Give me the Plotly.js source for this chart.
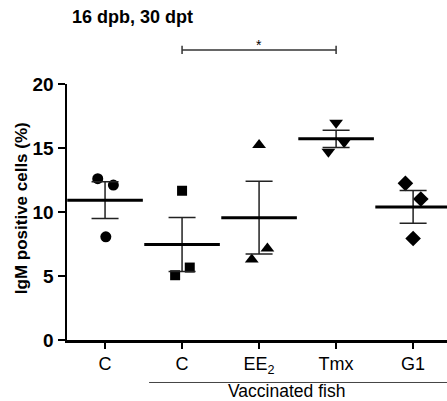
<!DOCTYPE html>
<html>
<head>
<meta charset="utf-8">
<script src="https://cdn.plot.ly/plotly-3.0.1.min.js"></script>
<style>html,body{margin:0;padding:0;background:#fff;}#chart{width:447px;height:401px;}</style>
</head>
<body>
<div id="chart"></div>
<script>
// Data
const categories = ["C", "C", "EE<sub>2</sub>", "Tmx", "G1"];
const groupC      = [12.6, 12.1, 8.06];
const groupVaccC  = [11.66, 5.06, 5.66];
const groupEE2    = [15.24, 6.29, 7.15];
const groupTmx    = [16.98, 15.45, 14.71];
const groupG1     = [12.24, 11.01, 7.93];
const jitter      = [[-0.095, 0.108, 0.01], [0, -0.09, 0.1], [0, -0.095, 0.108], [0, 0.104, -0.1], [-0.1, 0.1, 0]];
const symbols     = ["circle", "square", "triangle-up", "triangle-down", "diamond"];
const markerSizes = [11, 10, 12, 12, 12];
const groups = [groupC, groupVaccC, groupEE2, groupTmx, groupG1];

function mean(a){ return a.reduce((s,v)=>s+v,0)/a.length; }
function sem(a){ const m=mean(a); const sd=Math.sqrt(a.reduce((s,v)=>s+(v-m)*(v-m),0)/(a.length-1)); return sd/Math.sqrt(a.length); }

const traces = [];
groups.forEach((g, i) => {
  traces.push({
    type: "scatter", mode: "markers",
    x: g.map((_, j) => i + jitter[i][j]), y: g,
    marker: {symbol: symbols[i], size: markerSizes[i], color: "#000"},
    hoverinfo: "y", showlegend: false
  });
});
traces.push({
  type: "scatter", mode: "markers",
  x: groups.map((_, i) => i), y: groups.map(mean),
  marker: {symbol: "line-ew", size: 54, color: "#000", line: {width: 3, color: "#000"}},
  error_y: {type: "data", array: groups.map(sem), visible: true, thickness: 1.5, width: 13.5, color: "#222"},
  showlegend: false
});

const layout = {
  width: 447, height: 401,
  margin: {l: 67, r: 0, t: 84, b: 61},
  paper_bgcolor: "#fff", plot_bgcolor: "#fff",
  font: {family: "Liberation Sans, Arial, sans-serif", color: "#000"},
  title: {text: "16 dpb, 30 dpt", x: 72/447, xref: "container", xanchor: "left",
          y: 1 - 17/401, yref: "container", yanchor: "middle",
          font: {size: 18, weight: "bold", family: "Liberation Sans, Arial, sans-serif", color: "#000"}},
  xaxis: {
    range: [-0.494, 4.44], tickvals: [0,1,2,3,4], ticktext: categories,
    showgrid: false, zeroline: false, showline: true, linewidth: 2.5, linecolor: "#000",
    ticks: "outside", ticklen: 6, tickwidth: 2, tickcolor: "#000",
    tickfont: {size: 18, color: "#000"}
  },
  yaxis: {
    range: [0, 20], tickvals: [0,5,10,15,20],
    showgrid: false, zeroline: false, showline: true, linewidth: 2.5, linecolor: "#000",
    ticks: "outside", ticklen: 7, tickwidth: 2, tickcolor: "#000",
    tickfont: {size: 19, weight: "bold", color: "#000"}
  },
  shapes: [
    {type: "line", xref: "x", yref: "paper", x0: 1, x1: 3, y0: 1.133, y1: 1.133, line: {color: "#333", width: 1.5}},
    {type: "line", xref: "x", yref: "paper", x0: 1, x1: 1, y0: 1.117, y1: 1.149, line: {color: "#333", width: 1.5}},
    {type: "line", xref: "x", yref: "paper", x0: 3, x1: 3, y0: 1.117, y1: 1.149, line: {color: "#333", width: 1.5}},
    {type: "line", xref: "paper", yref: "paper", x0: 0.216, x1: 1, y0: -0.166, y1: -0.166, line: {color: "#444", width: 1}}
  ],
  annotations: [
    {text: "IgM positive cells (%)", textangle: -90, xref: "paper", yref: "paper", x: (21-67)/380, y: (339.6-208)/255.6,
     xanchor: "center", yanchor: "middle", showarrow: false, font: {size: 17, weight: "bold", color: "#000"}},
    {text: "*", xref: "x", yref: "paper", x: 2, y: 1.115, yanchor: "bottom", showarrow: false, font: {size: 14, color: "#000"}},
    {text: "Vaccinated fish", xref: "x", yref: "paper", x: 2.36, y: -0.2, yanchor: "middle", showarrow: false, font: {size: 17.5, color: "#000"}}
  ]
};

Plotly.newPlot("chart", traces, layout, {displayModeBar: false, staticPlot: true});
</script>
</body>
</html>
